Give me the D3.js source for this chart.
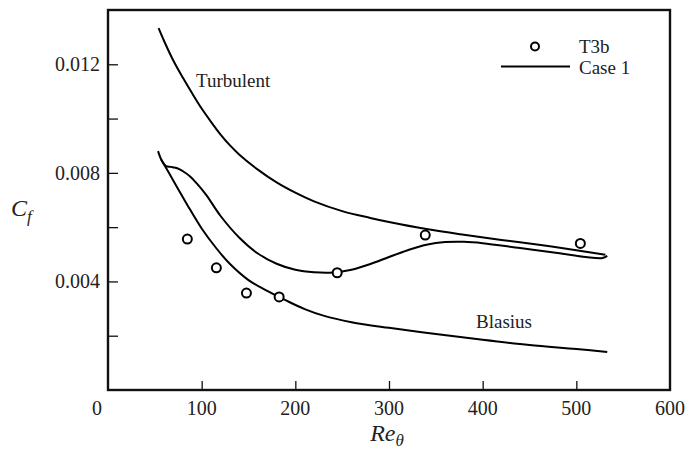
<!DOCTYPE html>
<html>
<head>
<meta charset="utf-8">
<script src="https://cdn.jsdelivr.net/npm/d3@7"></script>
<style>
  body { margin: 0; background: #fff; }
  text { font-family: 'Liberation Serif', 'DejaVu Serif', serif; }
</style>
</head>
<body>
<svg id="chart" width="689" height="452"></svg>
<script>
// ── data ───────────────────────────────────────────────────────────────────
const turbX = [54, 60, 70, 80, 90, 100, 110, 120, 130, 140, 160, 180, 200, 220, 250, 280, 300, 340, 380, 420, 460, 500, 531];
const turbY = [0.01333, 0.01285, 0.01212, 0.01150, 0.01092, 0.01037, 0.00988, 0.00942, 0.00902, 0.00868, 0.00812, 0.00765, 0.00727, 0.00695, 0.00659, 0.00634, 0.00619, 0.00593, 0.00572, 0.00553, 0.00535, 0.00515, 0.00498];

const blasX = [57, 65, 75, 85, 100, 115, 130, 150, 170, 190, 210, 230, 260, 300, 350, 400, 450, 500, 533];
const blasY = [0.00848, 0.00800, 0.00740, 0.00680, 0.00595, 0.00525, 0.00465, 0.00405, 0.00365, 0.00330, 0.00298, 0.00274, 0.00250, 0.00229, 0.00206, 0.00185, 0.00166, 0.00151, 0.00140];

const caseX = [53.4, 57.7, 62, 67, 74, 80, 88, 95, 105, 120, 140, 160, 180, 200, 220, 240, 260, 280, 300, 320, 340, 360, 380, 400, 440, 480, 510, 528, 533];
const caseY = [0.00880, 0.00843, 0.00825, 0.00822, 0.00817, 0.00806, 0.00786, 0.00760, 0.00718, 0.00642, 0.00562, 0.00503, 0.00465, 0.00443, 0.00434, 0.00433, 0.00443, 0.00464, 0.00490, 0.00515, 0.00535, 0.00545, 0.00546, 0.00541, 0.00523, 0.00505, 0.00490, 0.00486, 0.00494];

const t3bX = [84.7, 115.7, 147.8, 182.7, 244.7, 338.7, 504.3];
const t3bY = [0.00556, 0.00450, 0.00357, 0.00343, 0.00432, 0.00571, 0.00540];

const xTicks = [0, 100, 200, 300, 400, 500, 600];
const yTicks = [0.002, 0.004, 0.006, 0.008, 0.010, 0.012];
const yLabels = [0.004, 0.008, 0.012];

// ── layout ─────────────────────────────────────────────────────────────────
const svg = d3.select('#chart');
const L = 108, R = 670, T = 10, B = 390;
const x = d3.scaleLinear().domain([0, 600]).range([L, R]);
const y = d3.scaleLinear().domain([0, 0.014]).range([B, T]);

// inward ticks
svg.append('g').attr('transform', `translate(0,${B})`)
  .call(d3.axisBottom(x).tickValues(xTicks.slice(1, -1)).tickSize(-9).tickFormat(''))
  .call(g => g.select('.domain').remove())
  .selectAll('line').attr('stroke', '#111').attr('stroke-width', 1.3);
svg.append('g').attr('transform', `translate(${L},0)`)
  .call(d3.axisLeft(y).tickValues(yTicks).tickSize(-10).tickFormat(''))
  .call(g => g.select('.domain').remove())
  .selectAll('line').attr('stroke', '#111').attr('stroke-width', 1.3);

// frame
svg.append('rect').attr('x', L).attr('y', T).attr('width', R - L).attr('height', B - T)
  .attr('fill', 'none').attr('stroke', '#111').attr('stroke-width', 2.4);

// tick labels
svg.selectAll('.xl').data(xTicks).join('text')
  .attr('class', 'xl')
  .attr('x', d => d === 0 ? x(d) - 11 : x(d)).attr('y', 415)
  .attr('text-anchor', 'middle').attr('font-size', 20).text(d => d);
svg.selectAll('.yl').data(yLabels).join('text')
  .attr('class', 'yl')
  .attr('x', 100).attr('y', d => y(d)).attr('dy', '0.35em')
  .attr('text-anchor', 'end').attr('font-size', 20).text(d => d.toFixed(3));

// axis titles
const xt = svg.append('text').attr('x', 387).attr('y', 441).attr('text-anchor', 'middle')
  .attr('font-size', 24).attr('font-style', 'italic');
xt.append('tspan').text('Re');
xt.append('tspan').attr('font-size', 17).attr('dy', 5).text('θ');
const yt = svg.append('text').attr('x', 11).attr('y', 216).attr('font-size', 24).attr('font-style', 'italic');
yt.append('tspan').text('C');
yt.append('tspan').attr('font-size', 17).attr('dy', 6).text('f');

// curves
const line = d3.line().x(d => x(d[0])).y(d => y(d[1])).curve(d3.curveCatmullRom.alpha(0.5));
const series = [[turbX, turbY], [blasX, blasY], [caseX, caseY]];
series.forEach(([xs, ys]) => {
  svg.append('path').datum(xs.map((v, i) => [v, ys[i]]))
    .attr('d', line).attr('fill', 'none').attr('stroke', '#000').attr('stroke-width', 2);
});

// T3b points
svg.selectAll('.pt').data(t3bX.map((v, i) => [v, t3bY[i]])).join('circle')
  .attr('class', 'pt').attr('cx', d => x(d[0])).attr('cy', d => y(d[1])).attr('r', 4.5)
  .attr('fill', '#fff').attr('stroke', '#000').attr('stroke-width', 2);

// curve labels
svg.append('text').attr('x', 196).attr('y', 87).attr('font-size', 19).text('Turbulent');
svg.append('text').attr('x', 476).attr('y', 328).attr('font-size', 19).text('Blasius');

// legend
svg.append('circle').attr('cx', 535).attr('cy', 46.5).attr('r', 4)
  .attr('fill', '#fff').attr('stroke', '#000').attr('stroke-width', 2);
svg.append('text').attr('x', 579).attr('y', 53).attr('font-size', 19).text('T3b');
svg.append('line').attr('x1', 501).attr('x2', 570).attr('y1', 66.5).attr('y2', 66.5)
  .attr('stroke', '#000').attr('stroke-width', 2);
svg.append('text').attr('x', 579).attr('y', 74).attr('font-size', 19).text('Case 1');

svg.selectAll('text').attr('fill', '#222');
</script>
</body>
</html>
